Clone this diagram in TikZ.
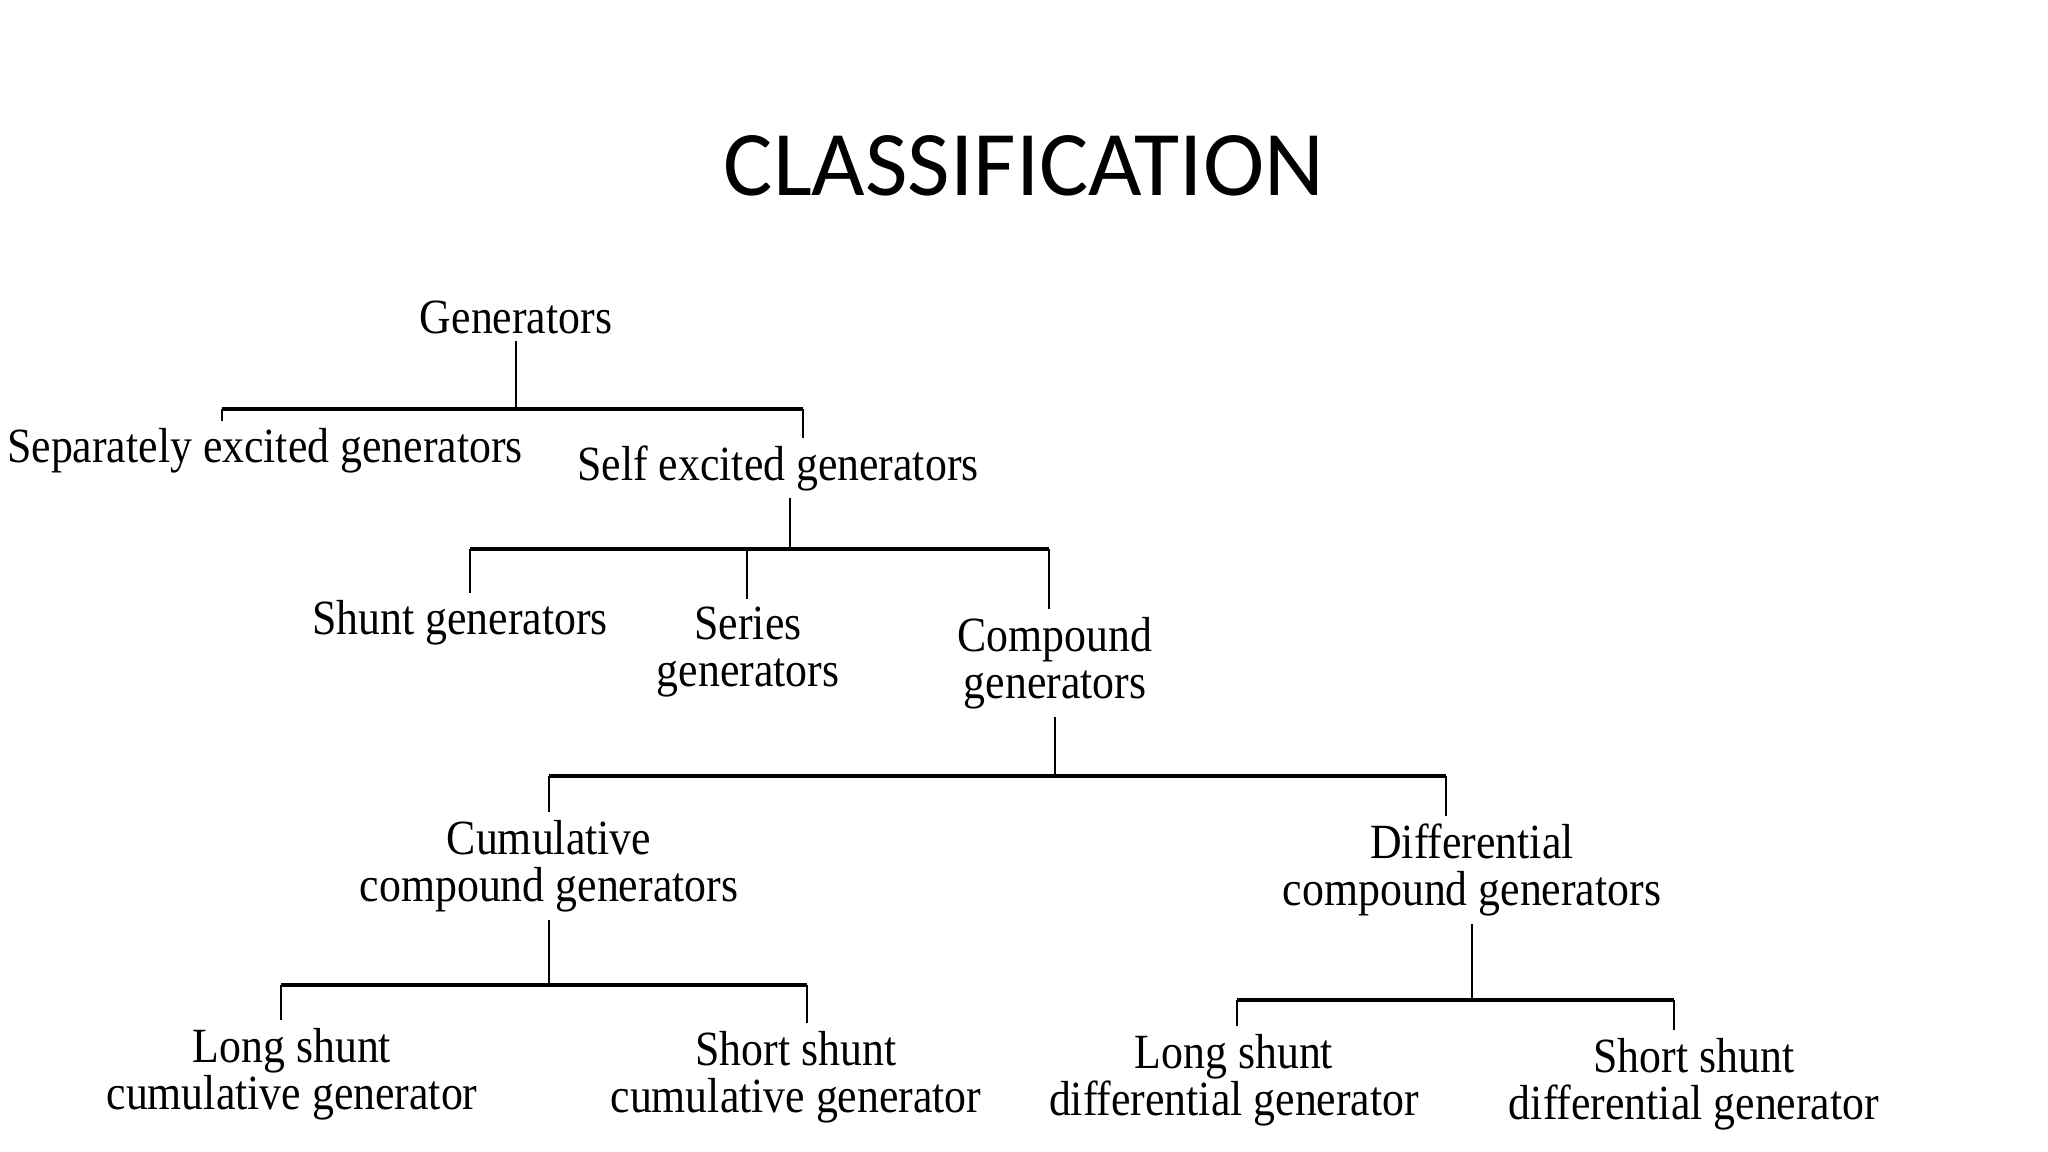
\documentclass[tikz,border=0pt]{standalone}
\usepackage{fontspec}
\setmainfont{Liberation Serif}
\newfontfamily\titlefont{Carlito}
\newfontfamily\treefont[FakeStretch=0.89]{Liberation Serif}
\usetikzlibrary{positioning,calc}

\begin{document}
\begin{tikzpicture}
\tikzstyle{main}=[align=center, inner sep=2pt, font=\treefont\fontsize{14}{13.5}\selectfont]
\tikzstyle{heading}=[inner sep=0pt, font=\titlefont\fontsize{26.3}{30}\selectfont]
\tikzstyle{bar}=[line width=1.2pt]
\tikzstyle{stem}=[line width=0.7pt]

  \useasboundingbox (0,0) rectangle (20.48,-11.52);

  \node[heading] (title) at (10.24,-1.66) {CLASSIFICATION};

  % first level
  \node[main] (gen)    at (5.16,-3.17)  {Generators};
  \node[main] (sep)    at (2.65,-4.51)  {Separately excited generators};
  \node[main] (self)   at (7.78,-4.68)  {Self excited generators};

  % second level
  \node[main] (shunt)  at (4.60,-6.23)  {Shunt generators};
  \node[main] (series) at (7.48,-6.52)  {Series\\generators};
  \node[main] (comp)   at (10.55,-6.63) {Compound\\generators};

  % third level
  \node[main] (cum)    at (5.49,-8.66)  {Cumulative\\compound generators};
  \node[main] (diff)   at (14.72,-8.70) {Differential\\compound generators};

  % fourth level
  \node[main] (lcum)   at (2.92,-10.74) {Long shunt\\cumulative generator};
  \node[main] (scum)   at (7.96,-10.77) {Short shunt\\cumulative generator};
  \node[main] (ldiff)  at (12.34,-10.80) {Long shunt\\differential generator};
  \node[main] (sdiff)  at (16.94,-10.84) {Short shunt\\differential generator};

  % bar ends
  \coordinate (b1l) at (2.22,-4.09);
  \coordinate (b1r) at (8.03,-4.09);
  \coordinate (b2l) at (4.70,-5.49);
  \coordinate (b2m) at (7.47,-5.49);
  \coordinate (b2r) at (10.49,-5.49);
  \coordinate (b3l) at (5.49,-7.76);
  \coordinate (b3r) at (14.46,-7.76);
  \coordinate (b4l) at (2.81,-9.85);
  \coordinate (b4r) at (8.07,-9.85);
  \coordinate (b5l) at (12.37,-10.00);
  \coordinate (b5r) at (16.74,-10.00);

  % Generators
  \draw[stem] (gen.south) -- (gen.south |- b1l);
  \draw[bar] (b1l) -- (b1r);
  \draw[stem] (b1l) -- (b1l |- sep.north);
  \draw[stem] (b1r) -- (b1r |- self.north);

  % Self excited
  \draw[stem] ([xshift=0.12cm]self.south) -- ([xshift=0.12cm]self.south |- b2l);
  \draw[bar] (b2l) -- (b2r);
  \draw[stem] (b2l) -- (b2l |- shunt.north);
  \draw[stem] (b2m) -- (b2m |- series.north);
  \draw[stem] (b2r) -- (b2r |- comp.north);

  % Compound
  \draw[stem] (comp.south) -- (comp.south |- b3l);
  \draw[bar] (b3l) -- (b3r);
  \draw[stem] (b3l) -- (b3l |- cum.north);
  \draw[stem] (b3r) -- (b3r |- diff.north);

  % Cumulative
  \draw[stem] (cum.south) -- (cum.south |- b4l);
  \draw[bar] (b4l) -- (b4r);
  \draw[stem] (b4l) -- (b4l |- lcum.north);
  \draw[stem] (b4r) -- (b4r |- scum.north);

  % Differential
  \draw[stem] (diff.south) -- (diff.south |- b5l);
  \draw[bar] (b5l) -- (b5r);
  \draw[stem] (b5l) -- (b5l |- ldiff.north);
  \draw[stem] (b5r) -- (b5r |- sdiff.north);

\end{tikzpicture}
\end{document}
